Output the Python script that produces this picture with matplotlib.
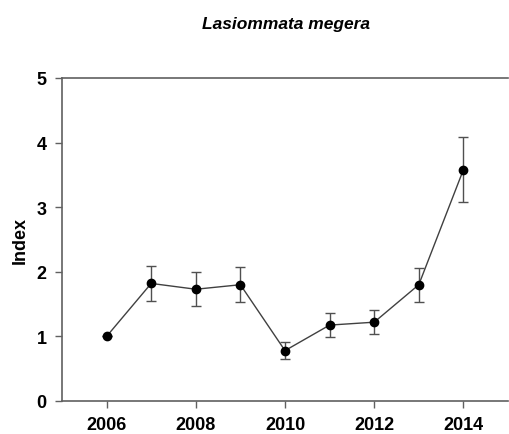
import matplotlib
matplotlib.use("Agg")
import matplotlib.pyplot as plt

years = [2006, 2007, 2008, 2009, 2010, 2011, 2012, 2013, 2014]
index = [1.00, 1.82, 1.73, 1.80, 0.78, 1.175, 1.22, 1.80, 3.58]
err_low = [0.0, 0.27, 0.26, 0.27, 0.13, 0.185, 0.19, 0.265, 0.50]
err_high = [0.0, 0.27, 0.26, 0.27, 0.13, 0.185, 0.19, 0.265, 0.50]
xticks = [2006, 2008, 2010, 2012, 2014]
yticks = [0, 1, 2, 3, 4, 5]

plt.rcParams['font.family'] = ['Liberation Sans', 'DejaVu Sans']

fig = plt.figure(figsize=(5.09, 4.35), dpi=100)
ax = fig.add_axes([62/509, 1-402/435, 446/509, (402-79)/435])

ax.errorbar(years, index, yerr=[err_low, err_high], fmt='none',
            ecolor='#505050', elinewidth=1.0, capsize=3.5, capthick=1.0, zorder=2)
ax.plot(years, index, '-', color='#404040', lw=1.0, zorder=3)
ax.plot(years, index, 'o', color='black', ms=6, zorder=4)

ax.set_xlim(2005, 2015)
ax.set_ylim(0, 5)
ax.set_xticks(xticks)
ax.set_yticks(yticks)
ax.set_xticklabels([str(t) for t in xticks], fontsize=13, fontweight='bold')
ax.set_yticklabels([str(t) for t in yticks], fontsize=13, fontweight='bold')
ax.tick_params(direction='out', length=5, width=1, color='#606060', pad=6)

for s in ['left', 'bottom', 'top']:
    ax.spines[s].set_color('#606060')
    ax.spines[s].set_linewidth(1.2)
ax.spines['right'].set_visible(False)

ax.set_ylabel('Index', fontsize=13, fontweight='bold', labelpad=6)
fig.text(286/509, 1-24/435, 'Lasiommata megera', ha='center', va='center',
         fontsize=12.5, fontweight='bold', fontstyle='italic')

fig.savefig('out.png', dpi=100)
